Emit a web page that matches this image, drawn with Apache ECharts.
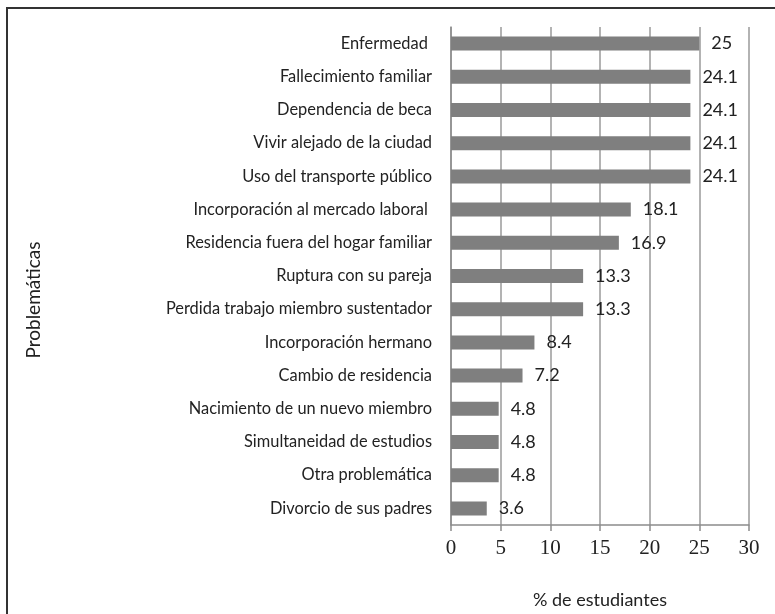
<!DOCTYPE html>
<html>
<head>
<meta charset="utf-8">
<script src="https://cdn.jsdelivr.net/npm/echarts@6/dist/echarts.min.js"></script>
<style>
  html, body { margin: 0; padding: 0; background: #fff; }
  #chart { width: 775px; height: 614px; }
</style>
</head>
<body>
<div id="chart"></div>
<script>
// categorias (de arriba hacia abajo)
var categories = [
  'Enfermedad ',
  'Fallecimiento familiar',
  'Dependencia de beca',
  'Vivir alejado de la ciudad',
  'Uso del transporte público',
  'Incorporación al mercado laboral ',
  'Residencia fuera del hogar familiar',
  'Ruptura con su pareja',
  'Perdida trabajo miembro sustentador',
  'Incorporación hermano',
  'Cambio de residencia',
  'Nacimiento de un nuevo miembro',
  'Simultaneidad de estudios',
  'Otra problemática',
  'Divorcio de sus padres'
];
// % de estudiantes
var values = [25, 24.1, 24.1, 24.1, 24.1, 18.1, 16.9, 13.3, 13.3, 8.4, 7.2, 4.8, 4.8, 4.8, 3.6];

var chart = echarts.init(document.getElementById('chart'));

var option = {
  animation: false,
  backgroundColor: '#fff',
  grid: {
    left: 451,
    right: 26,
    top: 27,
    bottom: 84
  },
  xAxis: {
    type: 'value',
    min: 0,
    max: 30,
    interval: 5,
    name: '% de estudiantes',
    nameLocation: 'middle',
    nameGap: 66,
    nameTextStyle: { fontFamily: 'Lato', fontSize: 18, color: '#222' },
    axisLine: { show: true, lineStyle: { color: '#8c8c8c', width: 1.5 } },
    axisTick: { show: true, length: 6, lineStyle: { color: '#8c8c8c', width: 1.5 } },
    axisLabel: { fontFamily: 'Liberation Serif', fontSize: 21, color: '#222', margin: 13 },
    splitLine: { show: true, lineStyle: { color: '#9a9a9a', width: 1.5 } }
  },
  yAxis: {
    type: 'category',
    data: categories,
    inverse: true,
    axisLine: { show: true, lineStyle: { color: '#8c8c8c', width: 1.5 } },
    axisTick: { show: false },
    axisLabel: { fontFamily: 'Lato', fontSize: 16.4, color: '#222', margin: 19 }
  },
  series: [{
    type: 'bar',
    data: values,
    barWidth: 14,
    itemStyle: { color: '#7f7f7f' },
    label: {
      show: true,
      position: 'right',
      distance: 12,
      fontFamily: 'Lato',
      fontSize: 18,
      color: '#222'
    }
  }],
  graphic: [
    {
      type: 'polyline',
      shape: { points: [[7, 614], [7, 8], [775, 8]] },
      style: { stroke: '#333', lineWidth: 2, fill: null }
    },
    {
      type: 'text',
      x: 34,
      y: 300,
      rotation: Math.PI / 2,
      style: {
        text: 'Problemáticas',
        fontFamily: 'Lato',
        fontSize: 19,
        fill: '#222',
        align: 'center',
        verticalAlign: 'middle'
      }
    }
  ]
};

chart.setOption(option);
</script>
</body>
</html>
